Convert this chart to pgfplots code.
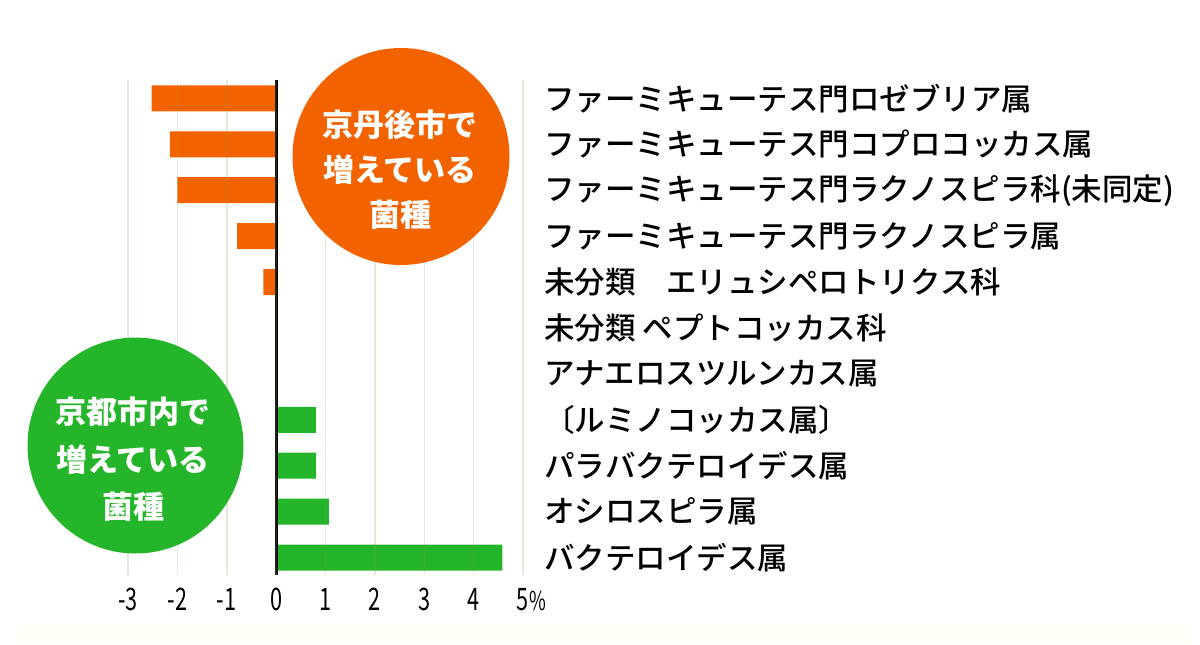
\documentclass[border=0pt]{standalone}
\usepackage{fontspec}
\usepackage{pgfplots}
\pgfplotsset{compat=1.18}

\newfontfamily\cjk{Noto Sans CJK JP}
\newfontfamily\cjkm{Noto Sans CJK JP Medium}
\newfontfamily\numfont{Noto Sans CJK JP}[FakeStretch=0.7]

\definecolor{tango}{HTML}{F26300}
\definecolor{kyoto}{HTML}{25B52B}
\definecolor{gridc}{RGB}{150,150,90}
\definecolor{band}{RGB}{254,254,247}

\begin{document}
\begin{tikzpicture}[x=0.5pt,y=-0.5pt]
% page 1200 x 644 px
\fill[white] (0,0) rectangle (1200,644);
\fill[band] (15,625) rectangle (1190,644);

\begin{axis}[
    at={(64pt,-287.5pt)}, anchor=south west,
    width=197.5pt, height=247.5pt, scale only axis,
    xmin=-3, xmax=5, ymin=-0.38, ymax=10.4,
    axis line style={draw=none},
    major tick length=0pt,
    xtick={-3,...,5},
    xticklabels={-3,-2,-1,0,1,2,3,4,5\rlap{\fontsize{13pt}{13pt}\selectfont\%}},
    xticklabel style={anchor=base, inner sep=0pt, yshift=-17.75pt,
        font=\numfont\fontsize{15.5pt}{15.5pt}\selectfont},
    ytick={0,...,10},
    yticklabels={
        バクテロイデス属,
        オシロスピラ属,
        パラバクテロイデス属,
        〔ルミノコッカス属〕,
        アナエロスツルンカス属,
        未分類 ペプトコッカス科,
        未分類　エリュシペロトリクス科,
        ファーミキューテス門ラクノスピラ属,
        ファーミキューテス門ラクノスピラ科(未同定),
        ファーミキューテス門コプロコッカス属,
        ファーミキューテス門ロゼブリア属},
    yticklabel pos=right,
    yticklabel style={anchor=west, inner sep=0pt, xshift=10.5pt,
        font=\cjkm\fontsize{15.25pt}{15.25pt}\selectfont},
    xmajorgrids,
    grid style={draw=gridc, opacity=0.22, line width=0.75pt},
    axis on top,
]
% Kyotango side (negative)
\addplot[xbar, bar shift=0pt, bar width=13pt, fill=tango, draw=none]
    coordinates {(-2.52,10) (-2.15,9) (-2.00,8) (-0.79,7) (-0.26,6)};
% Kyoto side (positive)
\addplot[xbar, bar shift=0pt, bar width=13pt, fill=kyoto, draw=none]
    coordinates {(0.81,3) (0.81,2) (1.07,1) (4.58,0)};
\draw[line width=1.6pt] (axis cs:0,-0.38) -- (axis cs:0,10.4);
\end{axis}

% circles
\fill[tango] (401,156.5) circle[radius=54.25pt];
\fill[kyoto] (135.5,445.5) circle[radius=54pt];
\begin{scope}[every node/.style={text=white, inner sep=0pt,
    font=\cjk\bfseries\fontsize{15.5pt}{15.5pt}\selectfont}]
\node at (400,125) {京丹後市で};
\node at (400,170) {増えている};
\node at (400,215) {菌種};
\node at (133,412) {京都市内で};
\node at (133,460) {増えている};
\node at (133,507) {菌種};
\end{scope}
\end{tikzpicture}
\end{document}
